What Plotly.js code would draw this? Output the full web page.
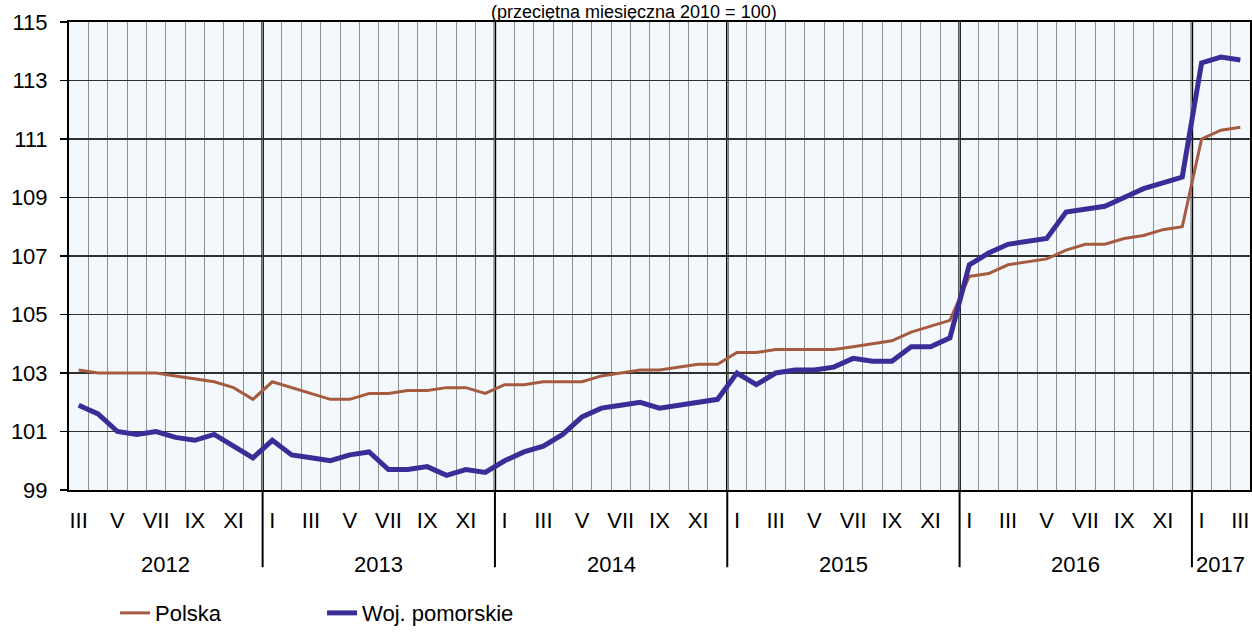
<!DOCTYPE html>
<html>
<head>
<meta charset="utf-8">
<script src="https://cdn.plot.ly/plotly-3.0.1.min.js"></script>
<style>
  html, body { margin: 0; padding: 0; background: #ffffff; }
  #chart { width: 1252px; height: 632px; }
</style>
</head>
<body>
<div id="chart"></div>
<script>
// Months (Roman numerals) from III 2012 to III 2017
const months = [
  'III','IV','V','VI','VII','VIII','IX','X','XI','XII',
  'I','II','III','IV','V','VI','VII','VIII','IX','X','XI','XII',
  'I','II','III','IV','V','VI','VII','VIII','IX','X','XI','XII',
  'I','II','III','IV','V','VI','VII','VIII','IX','X','XI','XII',
  'I','II','III','IV','V','VI','VII','VIII','IX','X','XI','XII',
  'I','II','III'
];
const monthYears = [
  2012,2012,2012,2012,2012,2012,2012,2012,2012,2012,
  2013,2013,2013,2013,2013,2013,2013,2013,2013,2013,2013,2013,
  2014,2014,2014,2014,2014,2014,2014,2014,2014,2014,2014,2014,
  2015,2015,2015,2015,2015,2015,2015,2015,2015,2015,2015,2015,
  2016,2016,2016,2016,2016,2016,2016,2016,2016,2016,2016,2016,
  2017,2017,2017
];
const years = [2012, 2013, 2014, 2015, 2016, 2017];
const labelledMonths = ['I','III','V','VII','IX','XI'];

const polska = [
  103.1, 103.0, 103.0, 103.0, 103.0, 102.9, 102.8, 102.7, 102.5, 102.1,
  102.7, 102.5, 102.3, 102.1, 102.1, 102.3, 102.3, 102.4, 102.4, 102.5, 102.5, 102.3,
  102.6, 102.6, 102.7, 102.7, 102.7, 102.9, 103.0, 103.1, 103.1, 103.2, 103.3, 103.3,
  103.7, 103.7, 103.8, 103.8, 103.8, 103.8, 103.9, 104.0, 104.1, 104.4, 104.6, 104.8,
  106.3, 106.4, 106.7, 106.8, 106.9, 107.2, 107.4, 107.4, 107.6, 107.7, 107.9, 108.0,
  111.0, 111.3, 111.4
];
const pomorskie = [
  101.9, 101.6, 101.0, 100.9, 101.0, 100.8, 100.7, 100.9, 100.5, 100.1,
  100.7, 100.2, 100.1, 100.0, 100.2, 100.3, 99.7, 99.7, 99.8, 99.5, 99.7, 99.6,
  100.0, 100.3, 100.5, 100.9, 101.5, 101.8, 101.9, 102.0, 101.8, 101.9, 102.0, 102.1,
  103.0, 102.6, 103.0, 103.1, 103.1, 103.2, 103.5, 103.4, 103.4, 103.9, 103.9, 104.2,
  106.7, 107.1, 107.4, 107.5, 107.6, 108.5, 108.6, 108.7, 109.0, 109.3, 109.5, 109.7,
  113.6, 113.8, 113.7
];
const seriesNames = ['Polska', 'Woj. pomorskie'];
const subtitle = '(przeciętna miesięczna 2010 = 100)';
const yTicks = [99, 101, 103, 105, 107, 109, 111, 113, 115];

// Derived positions
const xIdx = months.map((m, i) => i);
const tickVals = xIdx.filter(i => labelledMonths.includes(months[i]));
const tickText = tickVals.map(i => months[i]);
const boundaries = xIdx.filter(i => i > 0 && monthYears[i] !== monthYears[i - 1]);
const yearCenters = years.map(y => {
  const idx = xIdx.filter(i => monthYears[i] === y);
  return (idx[0] + idx[idx.length - 1]) / 2;
});

const FONT = 'Liberation Sans, Arial, sans-serif';

const traces = [
  {
    x: xIdx, y: polska, name: seriesNames[0], type: 'scatter', mode: 'lines',
    line: { color: '#a65b40', width: 3 }, hoverinfo: 'x+y'
  },
  {
    x: xIdx, y: pomorskie, name: seriesNames[1], type: 'scatter', mode: 'lines',
    line: { color: '#3b2d98', width: 5 }, hoverinfo: 'x+y'
  }
];

const shapes = [];
boundaries.forEach(b => {
  shapes.push({
    type: 'line', xref: 'x', yref: 'y', x0: b - 0.5, x1: b - 0.5, y0: 99, y1: 115,
    line: { color: '#000000', width: 2.5 }, layer: 'below'
  });
  shapes.push({
    type: 'line', xref: 'x', yref: 'paper', x0: b - 0.5, x1: b - 0.5, y0: -0.165, y1: 0,
    line: { color: '#000000', width: 2 }, layer: 'above'
  });
});

const annotations = years.map((y, k) => ({
  text: String(y), xref: 'x', yref: 'paper', x: yearCenters[k], y: -0.16,
  xanchor: 'center', yanchor: 'middle', showarrow: false,
  font: { family: FONT, size: 22, color: '#000000' }
}));
annotations.push({
  text: subtitle, xref: 'paper', yref: 'paper', x: 0.478, y: 1.047,
  xanchor: 'center', yanchor: 'top', showarrow: false,
  font: { family: FONT, size: 18, color: '#000000' }
});

const layout = {
  width: 1252, height: 632,
  margin: { l: 69, r: 2, t: 22, b: 142, pad: 0, autoexpand: false },
  paper_bgcolor: '#ffffff',
  plot_bgcolor: '#f2f8fb',
  font: { family: FONT, size: 22, color: '#000000' },
  showlegend: true,
  legend: {
    orientation: 'h', x: 0.039, xanchor: 'left', y: -0.263, yanchor: 'middle',
    font: { family: FONT, size: 22, color: '#000000' },
    bgcolor: 'rgba(0,0,0,0)', entrywidth: 162, entrywidthmode: 'pixels'
  },
  xaxis: {
    range: [-0.5, 60.5], tickmode: 'array', tickvals: tickVals, ticktext: tickText,
    ticks: '', showgrid: false, zeroline: false,
    showline: true, linecolor: '#000000', linewidth: 2, mirror: true,
    tickfont: { family: FONT, size: 22, color: '#000000' },
    ticklabelstandoff: 10,
    minor: { tickmode: 'linear', tick0: -0.5, dtick: 1, showgrid: true, gridcolor: '#8f8f8f', gridwidth: 1, ticks: '' },
    fixedrange: true
  },
  yaxis: {
    range: [99, 115], tickmode: 'array', tickvals: yTicks, ticktext: yTicks.map(String),
    showgrid: true, gridcolor: '#303030', gridwidth: 1.5, zeroline: false,
    ticks: 'outside', ticklen: 7, tickwidth: 1.5, tickcolor: '#000000',
    showline: true, linecolor: '#000000', linewidth: 2, mirror: true,
    tickfont: { family: FONT, size: 22, color: '#000000' },
    ticklabelstandoff: 8,
    fixedrange: true
  },
  shapes: shapes,
  annotations: annotations
};

Plotly.newPlot('chart', traces, layout, { displayModeBar: false, staticPlot: true });
</script>
</body>
</html>
